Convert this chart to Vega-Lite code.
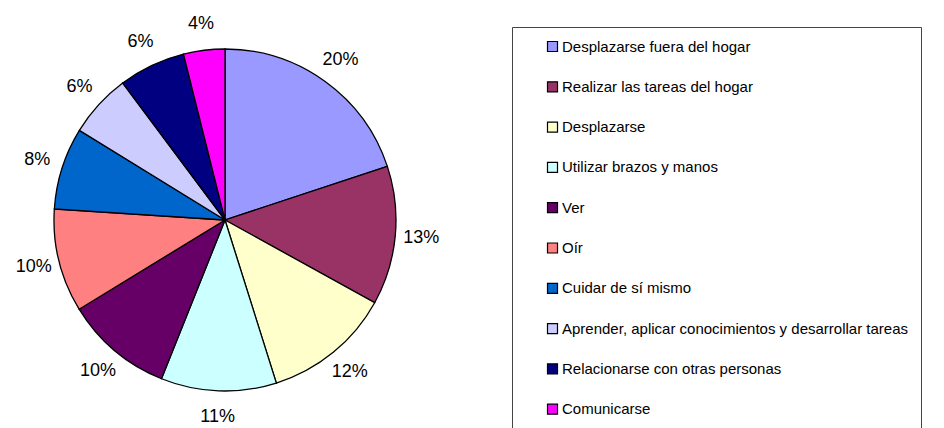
{
  "$schema": "https://vega.github.io/schema/vega-lite/v6.json",
  "width": 450,
  "height": 440,
  "padding": 0,
  "autosize": {"type": "pad"},
  "background": "white",
  "config": {"view": {"stroke": null}},
  "data": {
    "values": [
      {"orden": 1, "actividad": "Desplazarse fuera del hogar", "valor": 19.9, "etiqueta": "20%"},
      {"orden": 2, "actividad": "Realizar las tareas del hogar", "valor": 13.1, "etiqueta": "13%"},
      {"orden": 3, "actividad": "Desplazarse", "valor": 12.1, "etiqueta": "12%"},
      {"orden": 4, "actividad": "Utilizar brazos y manos", "valor": 10.9, "etiqueta": "11%"},
      {"orden": 5, "actividad": "Ver", "valor": 10.2, "etiqueta": "10%"},
      {"orden": 6, "actividad": "Oír", "valor": 9.75, "etiqueta": "10%"},
      {"orden": 7, "actividad": "Cuidar de sí mismo", "valor": 7.75, "etiqueta": "8%"},
      {"orden": 8, "actividad": "Aprender, aplicar conocimientos y desarrollar tareas", "valor": 6.0, "etiqueta": "6%"},
      {"orden": 9, "actividad": "Relacionarse con otras personas", "valor": 6.3, "etiqueta": "6%"},
      {"orden": 10, "actividad": "Comunicarse", "valor": 3.9, "etiqueta": "4%"}
    ]
  },
  "encoding": {
    "theta": {"field": "valor", "type": "quantitative", "stack": true},
    "order": {"field": "orden", "type": "quantitative", "sort": "ascending"}
  },
  "layer": [
    {
      "mark": {"type": "arc", "radius": 171, "stroke": "black", "strokeWidth": 1.3},
      "encoding": {
        "color": {
          "field": "actividad",
          "type": "nominal",
          "sort": null,
          "scale": {
            "domain": [
              "Desplazarse fuera del hogar",
              "Realizar las tareas del hogar",
              "Desplazarse",
              "Utilizar brazos y manos",
              "Ver",
              "Oír",
              "Cuidar de sí mismo",
              "Aprender, aplicar conocimientos y desarrollar tareas",
              "Relacionarse con otras personas",
              "Comunicarse"
            ],
            "range": ["#9999FF", "#993366", "#FFFFCC", "#CCFFFF", "#660066", "#FF8080", "#0066CC", "#CCCCFF", "#000080", "#FF00FF"]
          },
          "legend": {
            "title": null,
            "orient": "none",
            "legendX": 512,
            "legendY": 27,
            "padding": 12,
            "strokeColor": "#444444",
            "fillColor": "white",
            "symbolType": "square",
            "symbolSize": 100,
            "symbolStrokeColor": "black",
            "symbolStrokeWidth": 1.2,
            "symbolOffset": 21,
            "labelOffset": 2,
            "labelFont": "Liberation Sans",
            "labelFontSize": 15,
            "labelColor": "black",
            "labelLimit": 500,
            "rowPadding": 24.3
          }
        }
      }
    },
    {
      "mark": {"type": "text", "radius": 197, "font": "Liberation Sans", "fontSize": 18, "color": "black"},
      "encoding": {
        "text": {"field": "etiqueta"}
      }
    }
  ]
}
